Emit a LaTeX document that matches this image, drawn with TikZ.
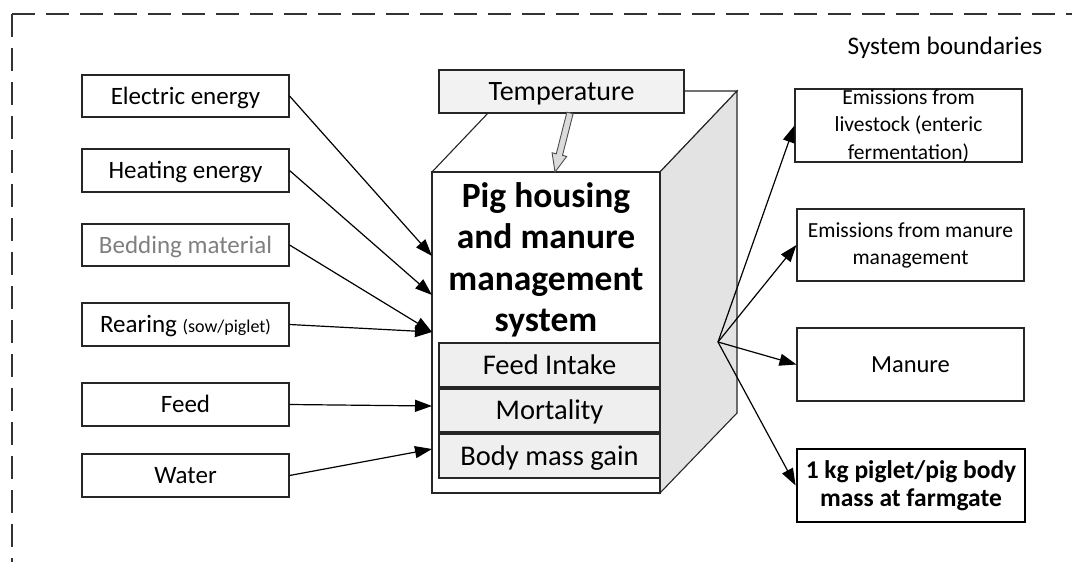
\documentclass[tikz,border=0pt]{standalone}
\usepackage{fontspec}
\setmainfont{Carlito}
\usetikzlibrary{arrows.meta,calc}
\definecolor{subfill}{HTML}{EFEFEF}
\definecolor{tempfill}{HTML}{F2F2F2}
\definecolor{sidefill}{HTML}{E3E3E3}
\definecolor{bordc}{HTML}{262626}
\definecolor{bedgray}{HTML}{7F7F7F}
\begin{document}
\begin{tikzpicture}[x=1pt,y=-1pt,
  box/.style={draw=bordc, line width=1.1pt, inner sep=0pt, align=center},
  oneline/.style={text height=#1pt, text depth=0pt},
  inbox/.style={box, oneline=16.1, minimum width=207pt, minimum height=43pt, font=\fontsize{25}{30}\selectfont},
  outbox/.style={box, minimum width=227pt, minimum height=73pt},
  subbox/.style={box, oneline=18.35, fill=subfill, minimum width=221pt, minimum height=44pt, font=\fontsize{28.5}{32}\selectfont},
  arr/.style={-{Triangle[length=17pt,width=12pt]}, line width=1.2pt, draw=black},
  boundary/.style={draw=black!80, line width=1.1pt, dash pattern=on 23pt off 11pt},
]
\useasboundingbox (0,0) rectangle (1072,562);
% system boundary
\draw[boundary] (12,14) -- (1072,14);
\draw[boundary] (12,14) -- (12,562);
\node[oneline=16.3, inner sep=0pt, font=\fontsize{25.3}{30}\selectfont] (sysb) at (945,46) {System boundaries};

% cube
\draw[line width=1.1pt, draw=bordc, fill=white] (432,172) -- (509,91) -- (737,91) -- (660,172) -- cycle;
\draw[line width=1.1pt, draw=bordc, fill=sidefill] (660,172) -- (737,91) -- (737,413) -- (660,493) -- cycle;
\draw[line width=1.1pt, draw=bordc, fill=white] (432,172) rectangle (660,493);

% temperature
\node[box, oneline=18, fill=tempfill, minimum width=245pt, minimum height=43pt, font=\fontsize{28}{32}\selectfont] (temp) at (561.5,91.5) {Temperature};
\draw[line width=0.9pt, draw=black!70, fill=black!14]
  (573.1,113.8) -- (562.5,155.4) -- (566.7,156.4) -- (555,172) -- (552.1,152.8) -- (556.3,153.8) -- (566.9,112.2) -- cycle;

% main title
\node[align=center, font=\bfseries\fontsize{35.5}{41.5}\selectfont] (title) at (546,260)
  {Pig housing\\and manure\\management\\system};

% sub boxes
\node[subbox] (fi) at (549.5,365) {Feed Intake};
\node[subbox, minimum height=43pt] (mo) at (549.5,410.5) {Mortality};
\node[subbox] (bm) at (549.5,456) {Body mass gain};

% input boxes
\node[inbox, minimum height=42pt] (elec) at (185.5,96) {Electric energy};
\node[inbox] (heat) at (185.5,170.5) {Heating energy};
\node[inbox, minimum height=42pt, text=bedgray] (bed) at (185.5,245) {Bedding material};
\node[inbox] (rear) at (185.5,324.5) {Rearing {\fontsize{18}{20}\selectfont (sow/piglet)}};
\node[inbox] (feed) at (185.5,404.5) {Feed};
\node[inbox] (water) at (185.5,475.5) {Water};

\coordinate (inE) at (432,256);
\coordinate (inH) at (432,295);
\coordinate (inR) at (432,332);
\coordinate (inF) at (432,406);
\coordinate (inW) at (432,449);

\draw[arr] (elec.east) -- (inE);
\draw[arr] (heat.east) -- (inH);
\draw[arr] (bed.east) -- (inR);
\draw[arr] (rear.east) -- (inR);
\draw[arr] (feed.east) -- (inF);
\draw[arr] (water.east) -- (inW);

% output boxes
\node[outbox] (liv) at (908.5,125.5) {};
\node[align=center, font=\fontsize{21.5}{27.5}\selectfont] (livt) at (908.5,126) {Emissions from\\livestock (enteric\\fermentation)};
\node[outbox, minimum height=72pt, font=\fontsize{21.5}{27}\selectfont] (emm) at (910.5,245) {Emissions from manure\\management};
\node[outbox, oneline=15.8, font=\fontsize{24.5}{30}\selectfont] (man) at (910.5,364.5) {Manure};
\node[outbox, minimum width=228pt, line width=2.8pt, draw=black, font=\bfseries\fontsize{25.5}{28.3}\selectfont] (kg) at (911,485.5) {1 kg piglet/pig body\\mass at farmgate};

\coordinate (hub) at (718,342);
\draw[arr] (hub) -- (liv.west);
\draw[arr] (hub) -- (emm.west);
\draw[arr] (hub) -- (man.west);
\draw[arr] (hub) -- (kg.west);
\end{tikzpicture}
\end{document}
